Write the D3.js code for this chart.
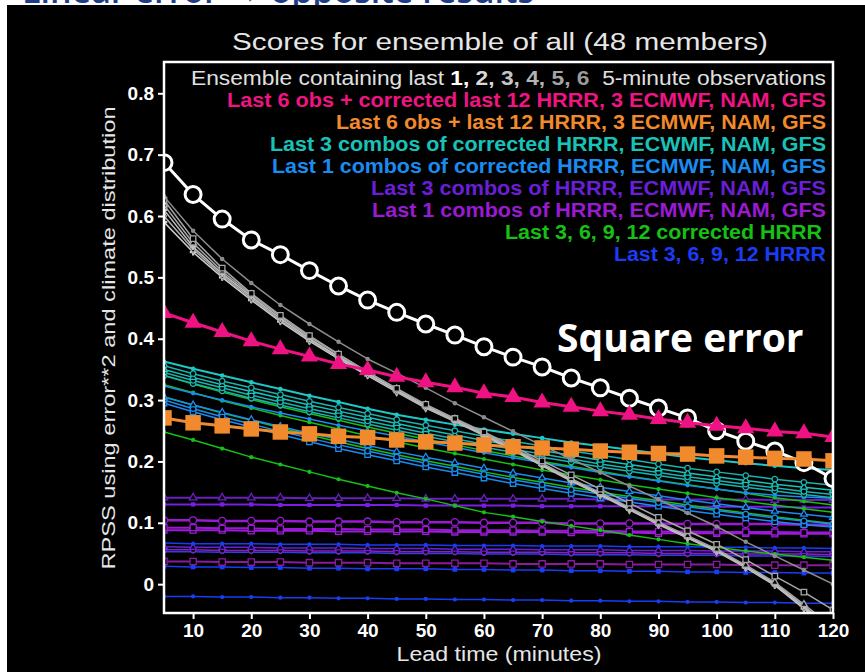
<!DOCTYPE html>
<html>
<head>
<meta charset="utf-8">
<title>Scores for ensemble of all (48 members)</title>
<style>
body { margin: 0; background: #fff; }
svg { display: block; }
.axis text { font-family: "Liberation Sans", Arial, sans-serif; font-weight: bold; font-size: 19px; fill: #fff; }
.axis line { stroke: #fff; stroke-width: 2px; }
.axis path { display: none; }
.lbl { font-family: "Liberation Sans", Arial, sans-serif; fill: #e6e6e6; }
.legend text { font-family: "Liberation Sans", Arial, sans-serif; font-weight: bold; font-size: 19.5px; text-anchor: end; }
</style>
<script src="https://d3js.org/d3.v7.min.js"></script>
</head>
<body>
<svg id="chart" width="865" height="672"></svg>
<script>
// lead times (minutes) and axis ticks
var leadTimes = [5,10,15,20,25,30,35,40,45,50,55,60,65,70,75,80,85,90,95,100,105,110,115,120];
var xTicks = [10,20,30,40,50,60,70,80,90,100,110,120];
var yTicks = [0,0.1,0.2,0.3,0.4,0.5,0.6,0.7,0.8];

// all 48 members
var allMembers = [0.687,0.635,0.595,0.561,0.537,0.511,0.486,0.463,0.443,0.424,0.406,0.387,0.370,0.354,0.336,0.320,0.303,0.287,0.271,0.250,0.233,0.217,0.198,0.172];
// last 6 obs + corrected models
var obsCorrected = [0.442,0.426,0.411,0.396,0.383,0.371,0.359,0.349,0.338,0.329,0.321,0.311,0.305,0.296,0.289,0.282,0.276,0.269,0.263,0.258,0.254,0.249,0.246,0.240];
// last 6 obs + raw models
var obsRaw = [0.271,0.263,0.258,0.253,0.248,0.245,0.241,0.239,0.235,0.232,0.230,0.227,0.224,0.222,0.220,0.217,0.215,0.213,0.212,0.209,0.207,0.205,0.204,0.201];

// last 1..6 observations
var obs1 = [0.632,0.576,0.530,0.491,0.455,0.424,0.395,0.367,0.344,0.320,0.295,0.272,0.249,0.226,0.204,0.182,0.160,0.138,0.116,0.094,0.069,0.046,0.023,0.000];
var obs2 = [0.626,0.563,0.515,0.474,0.438,0.405,0.375,0.346,0.319,0.293,0.270,0.248,0.225,0.201,0.178,0.155,0.132,0.109,0.087,0.065,0.040,0.013,-0.013,-0.042];
var obs3 = [0.618,0.556,0.510,0.472,0.436,0.403,0.374,0.346,0.318,0.292,0.269,0.246,0.222,0.197,0.172,0.149,0.125,0.101,0.079,0.057,0.031,0.003,-0.033,-0.070];
var obs4 = [0.610,0.550,0.506,0.469,0.433,0.400,0.371,0.344,0.316,0.290,0.268,0.244,0.220,0.195,0.170,0.147,0.123,0.099,0.077,0.055,0.029,0.001,-0.036,-0.074];
var obs5 = [0.600,0.546,0.503,0.466,0.430,0.398,0.369,0.342,0.314,0.288,0.266,0.243,0.219,0.194,0.169,0.146,0.122,0.098,0.076,0.054,0.028,0.000,-0.038,-0.076];
var obs6 = [0.590,0.541,0.500,0.463,0.428,0.396,0.367,0.340,0.313,0.287,0.265,0.242,0.218,0.193,0.168,0.145,0.121,0.097,0.075,0.053,0.027,-0.002,-0.040,-0.078];

// last 3 combos of corrected HRRR, ECMWF, NAM, GFS
var corr3a = [0.363,0.351,0.340,0.329,0.318,0.307,0.297,0.286,0.276,0.268,0.260,0.252,0.245,0.238,0.231,0.225,0.219,0.213,0.207,0.202,0.197,0.193,0.189,0.186];
var corr3b = [0.356,0.343,0.331,0.320,0.309,0.298,0.288,0.278,0.268,0.259,0.250,0.241,0.233,0.225,0.217,0.210,0.203,0.196,0.189,0.183,0.177,0.171,0.166,0.161];
var corr3c = [0.350,0.337,0.325,0.314,0.303,0.292,0.282,0.272,0.262,0.252,0.243,0.234,0.226,0.218,0.210,0.202,0.195,0.188,0.181,0.175,0.169,0.163,0.158,0.153];
var corr3d = [0.345,0.332,0.320,0.308,0.297,0.286,0.276,0.266,0.256,0.246,0.237,0.228,0.220,0.212,0.204,0.196,0.189,0.182,0.175,0.169,0.163,0.157,0.151,0.146];
var corr3e = [0.340,0.327,0.315,0.303,0.292,0.281,0.271,0.261,0.251,0.241,0.232,0.223,0.215,0.207,0.199,0.191,0.184,0.177,0.170,0.164,0.158,0.152,0.146,0.141];

// last 1 combos of corrected HRRR, ECMWF, NAM, GFS
var corr1a = [0.323,0.311,0.300,0.289,0.279,0.269,0.259,0.250,0.241,0.232,0.223,0.214,0.206,0.198,0.190,0.182,0.175,0.168,0.161,0.155,0.149,0.145,0.142,0.140];
var corr1b = [0.305,0.292,0.280,0.268,0.257,0.246,0.236,0.226,0.216,0.207,0.198,0.189,0.181,0.173,0.165,0.158,0.151,0.144,0.137,0.131,0.125,0.119,0.114,0.109];
var corr1c = [0.300,0.286,0.273,0.261,0.249,0.238,0.227,0.217,0.207,0.197,0.188,0.179,0.170,0.162,0.154,0.147,0.140,0.133,0.126,0.120,0.114,0.108,0.103,0.098];
var corr1d = [0.295,0.281,0.268,0.256,0.244,0.232,0.221,0.211,0.201,0.191,0.182,0.173,0.164,0.156,0.148,0.141,0.134,0.127,0.120,0.114,0.108,0.102,0.097,0.093];

// last 3, 6, 9, 12 corrected HRRR
var hrrrCorrA = [0.340,0.326,0.313,0.301,0.289,0.278,0.267,0.256,0.246,0.236,0.227,0.218,0.209,0.200,0.192,0.184,0.176,0.169,0.162,0.155,0.148,0.141,0.135,0.129];
var hrrrCorrB = [0.325,0.312,0.299,0.287,0.275,0.264,0.253,0.242,0.232,0.222,0.213,0.204,0.195,0.186,0.178,0.170,0.162,0.155,0.148,0.141,0.135,0.129,0.123,0.117];
var hrrrCorrC = [0.305,0.292,0.279,0.267,0.255,0.243,0.232,0.221,0.211,0.201,0.192,0.183,0.174,0.166,0.158,0.150,0.143,0.136,0.129,0.122,0.116,0.110,0.104,0.099];
var hrrrCorrD = [0.248,0.235,0.221,0.207,0.195,0.183,0.171,0.160,0.149,0.139,0.128,0.117,0.110,0.102,0.095,0.088,0.080,0.073,0.066,0.060,0.054,0.049,0.044,0.039];

// last 3 combos of HRRR, ECMWF, NAM, GFS
var raw3a = [0.141,0.141,0.141,0.141,0.141,0.140,0.140,0.140,0.140,0.139,0.139,0.139,0.139,0.139,0.139,0.138,0.138,0.138,0.138,0.138,0.138,0.137,0.137,0.137];
var raw3b = [0.130,0.130,0.130,0.130,0.129,0.129,0.129,0.129,0.129,0.128,0.128,0.128,0.128,0.127,0.127,0.127,0.127,0.127,0.126,0.126,0.126,0.126,0.125,0.125];
var raw3c = [0.061,0.060,0.060,0.060,0.059,0.059,0.059,0.058,0.058,0.058,0.057,0.057,0.057,0.056,0.056,0.056,0.055,0.055,0.055,0.054,0.054,0.054,0.053,0.053];

// last 1 combos of HRRR, ECMWF, NAM, GFS
var raw1a = [0.104,0.104,0.103,0.103,0.103,0.102,0.102,0.102,0.101,0.101,0.101,0.100,0.100,0.100,0.099,0.099,0.099,0.099,0.098,0.098,0.098,0.098,0.097,0.097];
var raw1b = [0.092,0.092,0.091,0.091,0.090,0.090,0.090,0.089,0.089,0.089,0.088,0.088,0.088,0.087,0.087,0.087,0.086,0.086,0.086,0.085,0.085,0.085,0.084,0.084];
var raw1c = [0.088,0.088,0.088,0.087,0.087,0.087,0.086,0.086,0.086,0.086,0.085,0.085,0.085,0.085,0.084,0.084,0.084,0.083,0.083,0.083,0.083,0.082,0.082,0.082];
var raw1d = [0.056,0.056,0.055,0.055,0.055,0.054,0.054,0.054,0.053,0.053,0.053,0.052,0.052,0.052,0.051,0.051,0.051,0.050,0.050,0.050,0.049,0.049,0.049,0.048];
var raw1e = [0.037,0.037,0.036,0.036,0.036,0.035,0.035,0.035,0.034,0.034,0.034,0.034,0.033,0.033,0.033,0.033,0.032,0.032,0.032,0.032,0.031,0.031,0.031,0.031];

// last 3, 6, 9, 12 HRRR
var hrrrA = [0.067,0.066,0.066,0.066,0.065,0.065,0.065,0.064,0.064,0.064,0.063,0.063,0.063,0.062,0.062,0.062,0.061,0.061,0.061,0.060,0.060,0.059,0.059,0.058];
var hrrrB = [0.053,0.053,0.052,0.052,0.052,0.051,0.051,0.051,0.050,0.050,0.050,0.049,0.049,0.049,0.048,0.048,0.048,0.047,0.047,0.047,0.046,0.046,0.046,0.045];
var hrrrC = [0.029,0.028,0.028,0.027,0.027,0.026,0.026,0.025,0.025,0.025,0.024,0.024,0.023,0.023,0.022,0.022,0.021,0.021,0.020,0.020,0.019,0.019,0.018,0.018];
var hrrrD = [-0.020,-0.020,-0.021,-0.021,-0.022,-0.022,-0.023,-0.023,-0.024,-0.024,-0.025,-0.025,-0.026,-0.026,-0.027,-0.027,-0.028,-0.028,-0.029,-0.029,-0.030,-0.030,-0.031,-0.031];

var legendLines = [
  "Last 6 obs + corrected last 12 HRRR, 3 ECMWF, NAM, GFS",
  "Last 6 obs + last 12 HRRR, 3 ECMWF, NAM, GFS",
  "Last 3 combos of corrected HRRR, ECWMF, NAM, GFS",
  "Last 1 combos of corrected HRRR, ECMWF, NAM, GFS",
  "Last 3 combos of HRRR, ECMWF, NAM, GFS",
  "Last 1 combos of HRRR, ECMWF, NAM, GFS",
  "Last 3, 6, 9, 12 corrected HRRR",
  "Last 3, 6, 9, 12 HRRR"
];
var legendColors = ["#ee1482","#f08a2c","#19c2b8","#1a8cf0","#6a1fd6","#9a1ad2","#16c016","#1a3cf5"];
// rendered widths of the legend lines in the original slide (px)
var legendWidths = [599, 490, 556, 554, 455, 454, 317, 212];
var obsNumbers = ["1,","2,","3,","4,","5,","6"];
var obsNumberColors = ["#ffffff","#d8d8d8","#c4c4c4","#b4b4b4","#a4a4a4","#9a9a9a"];

// drawing order: back to front
var series = [
  {v: hrrrD, c: "#1a3cf5", w: 1.5, m: "dot", s: 14},
  {v: hrrrC, c: "#1a3cf5", w: 1.5, m: "square", s: 22, fill: true},
  {v: raw1e, c: "#8a1a9e", w: 2, m: "square", s: 40},
  {v: hrrrB, c: "#2a40e0", w: 1.5, m: "dot", s: 14},
  {v: raw1d, c: "#8a1ec8", w: 1.5, m: "circle", s: 24},
  {v: raw3c, c: "#6a1fd6", w: 1.5, m: "triangle", s: 20},
  {v: hrrrA, c: "#1a3cf5", w: 1.5, m: "dot", s: 14},
  {v: raw1c, c: "#a01ae0", w: 2, m: "square", s: 36},
  {v: raw1b, c: "#9a1ad2", w: 2, m: "square", s: 36},
  {v: raw1a, c: "#9a1ad2", w: 2.5, m: "circle", s: 40},
  {v: raw3b, c: "#7a1ee6", w: 2, m: "square", s: 18, fill: true},
  {v: raw3a, c: "#6a1fc0", w: 2, m: "triangle", s: 24},
  {v: hrrrCorrD, c: "#16c016", w: 1.5, m: "dot", s: 14},
  {v: hrrrCorrC, c: "#16c016", w: 1.5, m: "dot", s: 14},
  {v: hrrrCorrB, c: "#16c016", w: 1.5, m: "dot", s: 14},
  {v: hrrrCorrA, c: "#16c016", w: 1.5, m: "dot", s: 14},
  {v: corr1d, c: "#1a8cf0", w: 1.5, m: "square", s: 30},
  {v: corr1c, c: "#1a8cf0", w: 1.5, m: "circle", s: 24},
  {v: corr1b, c: "#1a8cf0", w: 1.5, m: "triangle", s: 20},
  {v: corr1a, c: "#1a8cf0", w: 1.5, m: "dot", s: 14},
  {v: corr3e, c: "#19b4b0", w: 1.5, m: "circle", s: 24},
  {v: corr3d, c: "#19b4b0", w: 1.5, m: "circle", s: 24},
  {v: corr3c, c: "#19c2b8", w: 1.5, m: "triangle", s: 20},
  {v: corr3b, c: "#19b4b0", w: 1.5, m: "circle", s: 24},
  {v: corr3a, c: "#1ec8c8", w: 2, m: "dot", s: 16},
  {v: obs6, c: "#cfcfcf", w: 1.5, m: "plus", s: 24},
  {v: obs5, c: "#b0b0b0", w: 1.5, m: "diamond", s: 20},
  {v: obs4, c: "#c0c0c0", w: 1.5, m: "plus", s: 24},
  {v: obs3, c: "#a8a8a8", w: 1.5, m: "triangle", s: 20},
  {v: obs2, c: "#a6a6a6", w: 1.5, m: "square", s: 30},
  {v: obs1, c: "#8c8c8c", w: 1.5, m: "dot", s: 16},
  {v: allMembers, c: "#ffffff", w: 3, m: "circle", s: 200, sw: 3},
  {v: obsRaw, c: "#f08a2c", w: 3, m: "square", s: 240, fill: true},
  {v: obsCorrected, c: "#ee1283", w: 3, m: "triangle", s: 130, fill: true}
];

var svg = d3.select("#chart");
var W = 865, H = 672;

// slide title fragment above the black panel
svg.append("text")
  .attr("x", 22).attr("y", 3)
  .attr("font-family", "'Open Sans', sans-serif")
  .attr("font-weight", 600)
  .attr("font-size", 34)
  .attr("fill", "#1f3c88")
  .text("Linear error \u2192 opposite results");

svg.append("rect")
  .attr("x", 7).attr("y", 5)
  .attr("width", W - 7).attr("height", H - 5)
  .attr("fill", "#000");

var x = d3.scaleLinear().domain([5, 120]).range([164, 833]);
var y = d3.scaleLinear().domain([-0.047, 0.851]).range([613, 62]);

svg.append("clipPath").attr("id", "plotclip")
  .append("rect")
  .attr("x", x.range()[0]).attr("y", y.range()[1])
  .attr("width", x.range()[1] - x.range()[0])
  .attr("height", y.range()[0] - y.range()[1]);

var plot = svg.append("g").attr("clip-path", "url(#plotclip)");

var line = d3.line()
  .x(function(d) { return x(d[0]); })
  .y(function(d) { return y(d[1]); });

var symbolTypes = {
  dot: d3.symbolCircle,
  circle: d3.symbolCircle,
  square: d3.symbolSquare,
  triangle: d3.symbolTriangle,
  diamond: d3.symbolDiamond,
  plus: d3.symbolCross
};

series.forEach(function(s) {
  var pts = leadTimes.map(function(t, i) { return [t, s.v[i]]; });
  var g = plot.append("g");
  g.append("path")
    .datum(pts)
    .attr("fill", "none")
    .attr("stroke", s.c)
    .attr("stroke-width", s.w)
    .attr("stroke-linejoin", "round")
    .attr("d", line);

  var filled = s.fill || s.m === "dot" || s.m === "plus";
  g.selectAll("path.mk")
    .data(pts)
    .enter().append("path")
    .attr("class", "mk")
    .attr("transform", function(d) { return "translate(" + x(d[0]) + "," + y(d[1]) + ")"; })
    .attr("d", d3.symbol().type(symbolTypes[s.m]).size(s.s))
    .attr("fill", filled ? s.c : "#000")
    .attr("stroke", filled ? "none" : s.c)
    .attr("stroke-width", s.sw || 1.3);
});

// frame
svg.append("rect")
  .attr("x", x.range()[0]).attr("y", y.range()[1])
  .attr("width", x.range()[1] - x.range()[0])
  .attr("height", y.range()[0] - y.range()[1])
  .attr("fill", "none")
  .attr("stroke", "#fff")
  .attr("stroke-width", 2.5);

// axes
svg.append("g")
  .attr("class", "axis")
  .attr("transform", "translate(" + x.range()[0] + ",0)")
  .call(d3.axisLeft(y).tickValues(yTicks).tickSize(6).tickPadding(4)
    .tickFormat(function(d) { return d === 0 ? "0" : d3.format(".1f")(d); }));

svg.append("g")
  .attr("class", "axis")
  .attr("transform", "translate(0," + y.range()[0] + ")")
  .call(d3.axisBottom(x).tickValues(xTicks).tickSize(6).tickPadding(5));

// titles
svg.append("text")
  .attr("class", "lbl")
  .attr("x", 500).attr("y", 50)
  .attr("text-anchor", "middle")
  .attr("font-size", 23)
  .attr("textLength", 536).attr("lengthAdjust", "spacingAndGlyphs")
  .text("Scores for ensemble of all (48 members)");

svg.append("text")
  .attr("class", "lbl")
  .attr("x", 499).attr("y", 661)
  .attr("text-anchor", "middle")
  .attr("font-size", 20)
  .attr("textLength", 205).attr("lengthAdjust", "spacingAndGlyphs")
  .text("Lead time (minutes)");

svg.append("text")
  .attr("class", "lbl")
  .attr("transform", "translate(115,338) rotate(-90)")
  .attr("text-anchor", "middle")
  .attr("font-size", 19)
  .attr("fill", "#d0d0d0")
  .attr("textLength", 463).attr("lengthAdjust", "spacingAndGlyphs")
  .text("RPSS using error**2 and climate distribution");

// legend
var legend = svg.append("g").attr("class", "legend");

var first = legend.append("text")
  .attr("x", 826).attr("y", 85)
  .attr("textLength", 635).attr("lengthAdjust", "spacingAndGlyphs");
first.append("tspan").attr("font-weight", "normal").attr("fill", "#e0e0e0").text("Ensemble containing last ");
obsNumbers.forEach(function(n, i) {
  first.append("tspan").attr("fill", obsNumberColors[i]).text(n + (i < obsNumbers.length - 1 ? " " : ""));
});
first.append("tspan").attr("font-weight", "normal").attr("fill", "#e0e0e0").text("\u00a0\u00a05-minute observations");

legend.selectAll("text.entry")
  .data(legendLines)
  .enter().append("text")
  .attr("class", "entry")
  .attr("x", function(d, i) { return i === 6 ? 822 : 826; })
  .attr("y", function(d, i) { return 85 + 22 * (i + 1); })
  .attr("textLength", function(d, i) { return legendWidths[i]; })
  .attr("lengthAdjust", "spacingAndGlyphs")
  .attr("fill", function(d, i) { return legendColors[i]; })
  .text(function(d) { return d; });

svg.append("text")
  .attr("x", 557).attr("y", 352)
  .attr("font-family", "'Open Sans', sans-serif")
  .attr("font-weight", "bold")
  .attr("font-size", 39)
  .attr("fill", "#fff")
  .text("Square error");
</script>
</body>
</html>
